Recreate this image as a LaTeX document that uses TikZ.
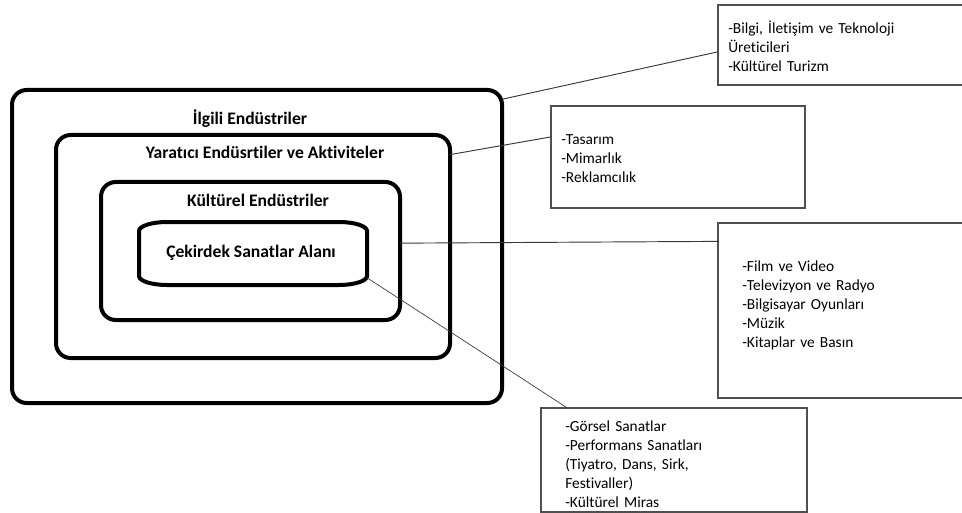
\documentclass[tikz,border=0pt]{standalone}
\usepackage{fontspec}
\setmainfont{Carlito}[Ligatures=NoCommon]
\definecolor{boxgray}{HTML}{505050}
\definecolor{linegray}{HTML}{383838}
\tikzset{
  bigbox/.style={draw, line width=3pt, rounded corners=11pt, outer sep=0pt, inner sep=0pt},
  corebox/.style={outer sep=0pt, inner sep=0pt},
  callbox/.style={draw=boxgray, line width=1pt, outer sep=0pt, inner sep=0pt, anchor=north west},
  calltext/.style={anchor=north west, inner sep=0pt, align=left, text width=220pt,
    font=\fontsize{11.55}{14.25}\selectfont},
  title/.style={anchor=base, inner sep=0pt, font=\bfseries\fontsize{13.2}{16}\selectfont},
  link/.style={draw=linegray, line width=0.7pt},
  thinlink/.style={draw=linegray, line width=0.5pt},
}
\begin{document}
\begin{tikzpicture}[x=0.75pt, y=-0.75pt]
\useasboundingbox (0,0) rectangle (962,513);
\clip (0,0) rectangle (962,513);
\fill[white] (0,0) rectangle (962,513);

% nested boxes
\node[bigbox, minimum width=367.5pt, minimum height=234.75pt] (r1) at (257,246.5) {};
\node[bigbox, minimum width=295.5pt, minimum height=167.25pt] (r2) at (253,246.5) {};
\node[bigbox, minimum width=224.25pt, minimum height=103.5pt] (r3) at (250.5,251) {};
\node[corebox, minimum width=171pt, minimum height=47.25pt] (core) at (253,253.5) {};
\draw[line width=3pt]
  ([xshift=21pt]core.north west) -- ([xshift=-21pt]core.north east)
  arc[start angle=90, end angle=0, x radius=21pt, y radius=6.75pt]
  -- ([yshift=6.75pt]core.south east)
  arc[start angle=0, end angle=-90, x radius=21pt, y radius=6.75pt]
  -- ([xshift=21pt]core.south west)
  arc[start angle=270, end angle=180, x radius=21pt, y radius=6.75pt]
  -- ([yshift=-6.75pt]core.north west)
  arc[start angle=180, end angle=90, x radius=21pt, y radius=6.75pt]
  -- cycle;

% titles
\node[title] (t1) at (250,125) {İlgili Endüstriler};
\node[title] (t2) at (265,159) {Yaratıcı Endüsrtiler ve Aktiviteler};
\node[title] (t3) at (258,206.5) {Kültürel Endüstriler};
\node[title] (t4) at (251,257) {Çekirdek Sanatlar Alanı};

% callout boxes
\node[callbox, minimum width=195pt, minimum height=60pt] (a1) at (718,5) {};
\node[callbox, minimum width=190.5pt, minimum height=76.5pt] (b1) at (551,106) {};
\node[callbox, minimum width=195pt, minimum height=131.25pt] (c1) at (718,223) {};
\node[callbox, minimum width=199.5pt, minimum height=78pt] (d1) at (541,408) {};

\node[calltext] (ta) at (728,19.5) {\strut-Bilgi, İletişim ve Teknoloji\\Üreticileri\\-Kültürel Turizm};
\node[calltext] (tb) at (561,130.7) {\strut-Tasarım\\-Mimarlık\\-Reklamcılık};
\node[calltext] (tc) at (742,257.7) {\strut-Film ve Video\\-Televizyon ve Radyo\\-Bilgisayar Oyunları\\-Müzik\\-Kitaplar ve Basın};
\node[calltext] (td) at (565,418.2) {\strut-Görsel Sanatlar\\-Performans Sanatları\\(Tiyatro, Dans, Sirk,\\Festivaller)\\-Kültürel Miras};

% connectors
\draw[link] (r1.31.9) -- (a1.183.1);
\draw[link] (r2.25.6) -- (b1.171.05);
\draw[link] (r3.3.06) -- (c1.152.56);
\draw[thinlink] (core.-12.1) -- (d1.154.3);
\end{tikzpicture}
\end{document}
